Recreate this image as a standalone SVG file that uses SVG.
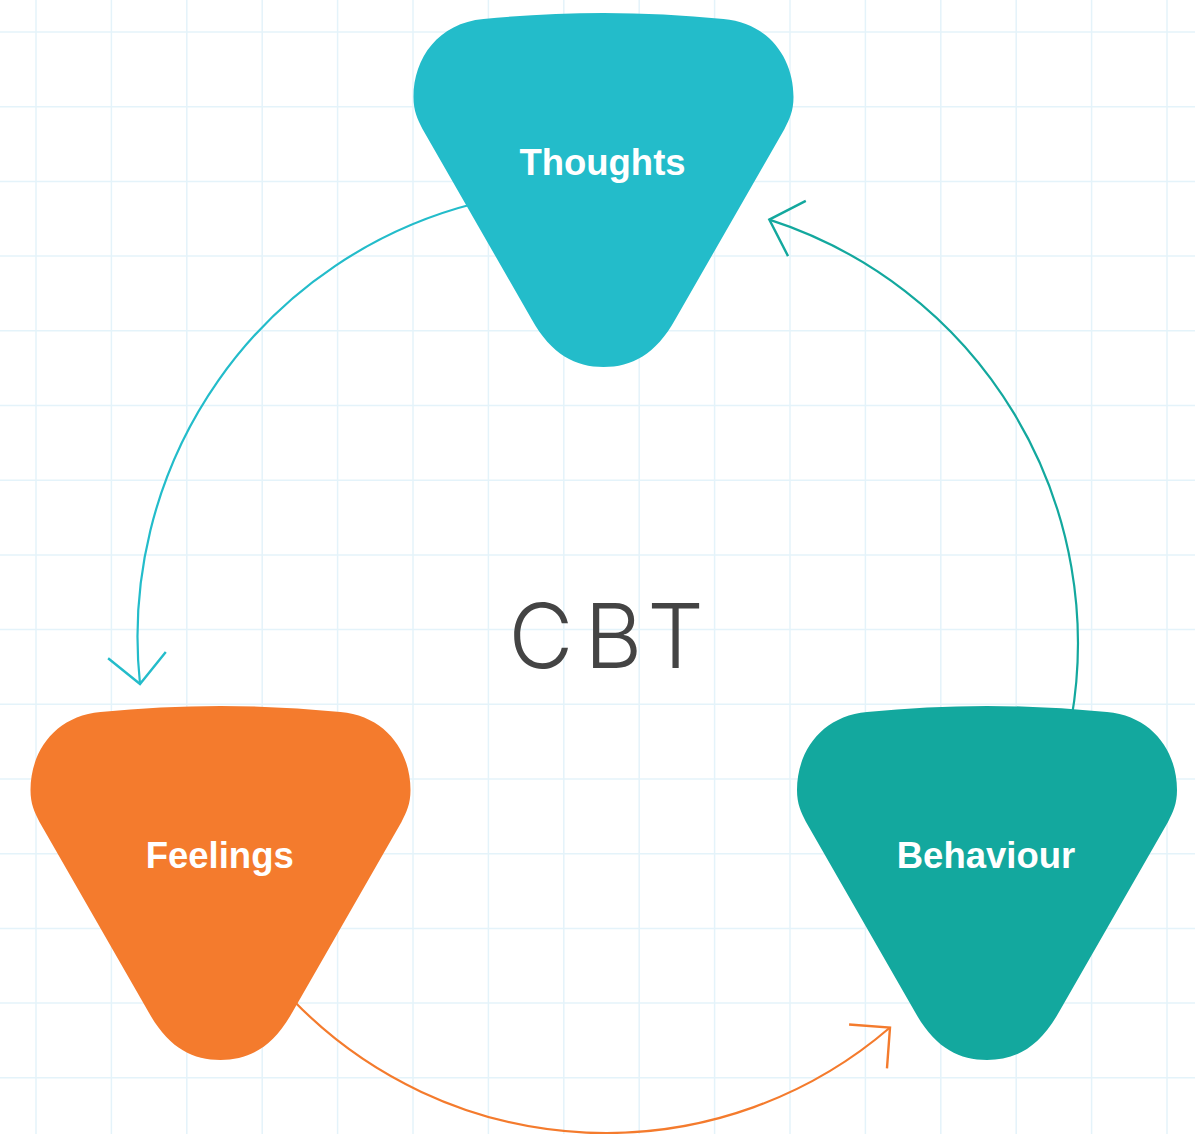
<svg xmlns="http://www.w3.org/2000/svg" width="1195" height="1134" viewBox="0 0 1195 1134">
  <defs>
    <style>
      .grid line { stroke: #e4f3fa; stroke-width: 1.5; }
      .conn { fill: none; stroke-width: 2.2; }
      .lbl { font-family: "Liberation Sans", Arial, sans-serif; font-weight: bold; font-size: 36.5px; fill: #ffffff; text-anchor: middle; }
      .title { font-family: Inter, Roboto, sans-serif; font-weight: 300; font-size: 89px; fill: #444444; text-anchor: middle; }
    </style>
    <path id="tri" d="M -120,6 Q 0,-6 120,6 C 165,10 190,45 190,84 C 190,98 186,106 181,116 L 72,306 C 52,342 28,354 0,354 C -28,354 -52,342 -72,306 L -181,116 C -186,106 -190,98 -190,84 C -190,45 -165,10 -120,6 Z"/>
    <marker id="arrCyan" markerUnits="userSpaceOnUse" markerWidth="80" markerHeight="80" refX="0" refY="0" orient="auto" overflow="visible">
      <path d="M -29,-29 L 0,0 L -29,29" fill="none" stroke="#23bcca" stroke-width="2.4"/>
    </marker>
    <marker id="arrTeal" markerUnits="userSpaceOnUse" markerWidth="80" markerHeight="80" refX="0" refY="0" orient="auto" overflow="visible">
      <path d="M -29,-29 L 0,0 L -29,29" fill="none" stroke="#13a89e" stroke-width="2.4"/>
    </marker>
    <marker id="arrOrange" markerUnits="userSpaceOnUse" markerWidth="80" markerHeight="80" refX="0" refY="0" orient="auto" overflow="visible">
      <path d="M -29,-29 L 0,0 L -29,29" fill="none" stroke="#f47b2d" stroke-width="2.4"/>
    </marker>
  </defs>

  <rect width="1195" height="1134" fill="#ffffff"/>

  <g class="grid">
    <line x1="36" y1="0" x2="36" y2="1134"/>
    <line x1="111.4" y1="0" x2="111.4" y2="1134"/>
    <line x1="186.8" y1="0" x2="186.8" y2="1134"/>
    <line x1="262.2" y1="0" x2="262.2" y2="1134"/>
    <line x1="337.6" y1="0" x2="337.6" y2="1134"/>
    <line x1="413" y1="0" x2="413" y2="1134"/>
    <line x1="488.4" y1="0" x2="488.4" y2="1134"/>
    <line x1="563.8" y1="0" x2="563.8" y2="1134"/>
    <line x1="639.2" y1="0" x2="639.2" y2="1134"/>
    <line x1="714.6" y1="0" x2="714.6" y2="1134"/>
    <line x1="790" y1="0" x2="790" y2="1134"/>
    <line x1="865.4" y1="0" x2="865.4" y2="1134"/>
    <line x1="940.8" y1="0" x2="940.8" y2="1134"/>
    <line x1="1016.2" y1="0" x2="1016.2" y2="1134"/>
    <line x1="1091.6" y1="0" x2="1091.6" y2="1134"/>
    <line x1="1167" y1="0" x2="1167" y2="1134"/>
    <line x1="0" y1="32" x2="1195" y2="32"/>
    <line x1="0" y1="106.7" x2="1195" y2="106.7"/>
    <line x1="0" y1="181.4" x2="1195" y2="181.4"/>
    <line x1="0" y1="256.1" x2="1195" y2="256.1"/>
    <line x1="0" y1="330.8" x2="1195" y2="330.8"/>
    <line x1="0" y1="405.5" x2="1195" y2="405.5"/>
    <line x1="0" y1="480.2" x2="1195" y2="480.2"/>
    <line x1="0" y1="554.9" x2="1195" y2="554.9"/>
    <line x1="0" y1="629.6" x2="1195" y2="629.6"/>
    <line x1="0" y1="704.3" x2="1195" y2="704.3"/>
    <line x1="0" y1="779" x2="1195" y2="779"/>
    <line x1="0" y1="853.7" x2="1195" y2="853.7"/>
    <line x1="0" y1="928.4" x2="1195" y2="928.4"/>
    <line x1="0" y1="1003.1" x2="1195" y2="1003.1"/>
    <line x1="0" y1="1077.8" x2="1195" y2="1077.8"/>
  </g>

  <g id="connectors">
    <path class="conn" stroke="#23bcca" d="M 475.9,203.3 A 447 447 0 0 0 140,684" marker-end="url(#arrCyan)"/>
    <path class="conn" stroke="#13a89e" d="M 1071.2,720.3 A 445 445 0 0 0 769.3,219.6" marker-end="url(#arrTeal)"/>
    <path class="conn" stroke="#f47b2d" d="M 293.1,1000.2 A 435 435 0 0 0 890,1027.5" marker-end="url(#arrOrange)"/>
  </g>

  <g id="node-thoughts">
    <use href="#tri" transform="translate(603.5,13)" fill="#23bcca"/>
    <text class="lbl" x="602.5" y="175">Thoughts</text>
  </g>

  <g id="node-feelings">
    <use href="#tri" transform="translate(220.5,706)" fill="#f47b2d"/>
    <text class="lbl" x="219.7" y="868.3">Feelings</text>
  </g>

  <g id="node-behaviour">
    <use href="#tri" transform="translate(987,706)" fill="#13a89e"/>
    <text class="lbl" x="986" y="868.3">Behaviour</text>
  </g>

  <g id="title">
    <text class="title" x="541 613.5 675.5" y="668">CBT</text>
  </g>
</svg>
